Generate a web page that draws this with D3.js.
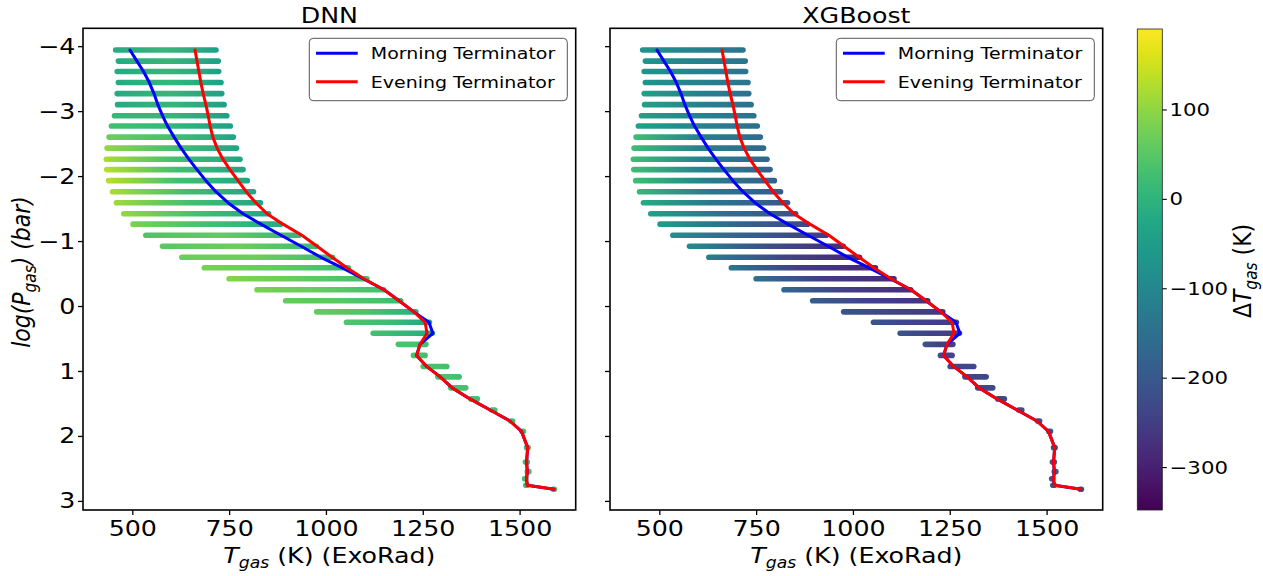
<!DOCTYPE html>
<html><head><meta charset="utf-8">
<script src="https://cdn.jsdelivr.net/npm/d3@7"></script>
<style>body{margin:0;background:#fff} svg{display:block} text{font-family:"DejaVu Sans",sans-serif;fill:#000}</style>
</head><body><svg id="c" width="1263" height="576"></svg>
<script>
// ---------------- data ----------------
const logP = [-3.94,-3.77,-3.61,-3.44,-3.27,-3.10,-2.93,-2.77,-2.60,-2.43,-2.26,-2.10,-1.93,-1.76,-1.59,-1.42,-1.26,-1.09,-0.92,-0.75,-0.59,-0.42,-0.25,-0.08,0.09,0.25,0.42,0.59,0.76,0.93,1.09,1.26,1.43,1.60,1.77,1.93,2.18,2.40,2.55,2.66,2.76,2.82];
const tMin = [457,464,461,464,461,462,454,446,440,435,433,434,439,449,459,478,502,535,578,628,686,750,822,896,976,1053,1122,1187,1226,1251,1289,1322,1374,1428,1477,1506,1518,1515,1520,1513,1516,1587];
const tMax = [716,722,723,729,731,737,744,753,761,769,778,786,797,813,831,852,883,931,975,1017,1058,1106,1149,1193,1232,1267,1275,1258,1256,1312,1344,1361,1391,1436,1482,1510,1522,1520,1524,1516,1520,1590];
const tMorning = [494,512,529,544,556,566,578,591,608,626,646,667,690,716,747,786,832,884,936,987,1041,1096,1150,1189,1227,1266,1276,1243,1234,1260,1295,1326,1372,1424,1475,1505,1521,1518,1520,1518,1520,1589];
const tEvening = [662,667,672,677,683,690,696,701,708,719,734,752,773,794,819,848,889,938,977,1016,1054,1098,1150,1189,1227,1256,1261,1243,1234,1260,1295,1326,1372,1424,1475,1505,1521,1518,1520,1518,1520,1589];
// Delta T_gas colour samples along each level (left end, middle, right end)
const dnnLeft  = [-20,-20,-20,-20,-20,-20,10,30,70,100,120,130,130,120,110,100,80,40,50,70,80,90,80,60,60,40,30,35,35,35,35,35,35,35,35,35,20,20,20,20,20,20];
const dnnMid   = [10,10,10,10,10,10,10,10,30,30,30,30,30,30,30,30,30,60,70,70,60,60,60,50,40,20,10,35,35,35,35,35,35,35,35,35,20,20,20,20,20,20];
const dnnRight = [-40,-40,-40,-40,-40,-40,-40,-40,-30,-30,-30,-30,-30,-30,-30,-30,-20,10,20,20,20,30,30,20,-10,-30,-20,30,30,30,30,30,30,30,30,30,20,20,20,20,20,20];
const xgbLeft  = [-70,-70,-70,-70,-40,-40,-40,-40,20,20,20,20,20,10,-20,-40,-50,-80,-95,-120,-140,-150,-170,-190,-210,-210,-210,-210,-220,-220,-220,-220,-220,-220,-220,-220,-200,-200,-200,-200,-200,-200];
const xgbMid   = [-110,-110,-110,-110,-110,-110,-110,-110,-110,-110,-110,-110,-120,-130,-140,-150,-170,-190,-220,-240,-255,-255,-250,-245,-240,-240,-240,-245,-240,-235,-235,-230,-230,-220,-215,-210,-200,-200,-200,-200,-200,-200];
const xgbRight = [-140,-140,-140,-140,-150,-150,-150,-155,-160,-165,-170,-180,-185,-195,-205,-215,-235,-255,-280,-290,-290,-285,-280,-270,-260,-255,-250,-250,-240,-235,-230,-230,-225,-220,-215,-210,-200,-200,-200,-200,-200,-200];
const panelTitles = ["DNN", "XGBoost"];
const legendLabels = ["Morning Terminator", "Evening Terminator"];
const lineColors = ["#0000ff", "#ff0000"];
const xTicks = [500, 750, 1000, 1250, 1500];
const yTicks = [-4, -3, -2, -1, 0, 1, 2, 3];
const cbTicks = [-300, -200, -100, 0, 100];
const cbDomain = [-348, 190];
const xDomain = [372.7, 1644.9];
const yDomain = [-4.275, 3.14];

// ---------------- drawing ----------------
const S = 1.15; // horizontal text stretch of the reference
const svg = d3.select("#c");
const defs = svg.append("defs");
const color = d3.scaleSequential(d3.interpolateViridis).domain(cbDomain);
const yTop = 28.3, yBot = 510;
const y = d3.scaleLinear().domain(yDomain).range([yTop, yBot]);
const minus = d => (d < 0 ? "\u2212" + Math.abs(d) : String(d));

function stext(parent, x, yy, size, anchor, rot) {
  const g = parent.append("g").attr("transform", `translate(${x},${yy}) scale(${S},1)` + (rot ? ` rotate(${rot})` : ""));
  return g.append("text").attr("font-size", size).attr("text-anchor", anchor);
}

const panels = [
  {x0: 83, x1: 575.7, L: dnnLeft, M: dnnMid, R: dnnRight},
  {x0: 610, x1: 1102.7, L: xgbLeft, M: xgbMid, R: xgbRight}
];

panels.forEach((p, pi) => {
  const x = d3.scaleLinear().domain(xDomain).range([p.x0, p.x1]);
  const g = svg.append("g");

  logP.forEach((v, i) => {
    const xa = x(tMin[i]), xb = Math.max(x(tMax[i]), x(tMin[i]) + 0.6);
    const id = `gr${pi}_${i}`;
    const gr = defs.append("linearGradient").attr("id", id)
      .attr("gradientUnits", "userSpaceOnUse")
      .attr("x1", xa).attr("x2", xb).attr("y1", 0).attr("y2", 0);
    gr.append("stop").attr("offset", 0).attr("stop-color", color(p.L[i]));
    gr.append("stop").attr("offset", 0.5).attr("stop-color", color(p.M[i]));
    gr.append("stop").attr("offset", 1).attr("stop-color", color(p.R[i]));
    g.append("line").attr("x1", xa).attr("x2", xb).attr("y1", y(v)).attr("y2", y(v))
      .attr("stroke", `url(#${id})`).attr("stroke-width", 5.6).attr("stroke-linecap", "round");
  });

  const line = d3.line().x(d => x(d[0])).y(d => y(d[1]));
  [tMorning, tEvening].forEach((arr, k) => {
    g.append("path").datum(arr.map((t, i) => [t, logP[i]]))
      .attr("d", line).attr("fill", "none").attr("stroke", lineColors[k])
      .attr("stroke-width", 3).attr("stroke-linejoin", "round").attr("stroke-linecap", "round");
  });

  const xa = g.append("g").attr("transform", `translate(0,${yBot})`)
    .call(d3.axisBottom(x).tickValues(xTicks).tickSize(5).tickPadding(5).tickFormat(d3.format("d")));
  const ya = g.append("g").attr("transform", `translate(${p.x0},0)`)
    .call(d3.axisLeft(y).tickValues(yTicks).tickSize(5).tickPadding(1.6).tickFormat(pi === 0 ? minus : ""));
  [xa, ya].forEach(a => {
    a.select(".domain").remove();
    a.selectAll(".tick line").attr("stroke", "#000").attr("stroke-width", 1.3);
    a.selectAll("text").attr("font-size", 22).attr("font-family", '"DejaVu Sans",sans-serif')
      .attr("fill", "#000").attr("transform", `scale(${S},1)`);
  });

  g.append("rect").attr("x", p.x0).attr("y", yTop).attr("width", p.x1 - p.x0).attr("height", yBot - yTop)
    .attr("fill", "none").attr("stroke", "#000").attr("stroke-width", 1.6);

  stext(g, (p.x0 + p.x1) / 2, 22.7, 22, "middle").text(panelTitles[pi]);

  const xl = stext(g, (p.x0 + p.x1) / 2, 563, 22, "middle");
  xl.append("tspan").attr("font-style", "italic").text("T");
  xl.append("tspan").attr("font-style", "italic").attr("font-size", 15).attr("dy", 5).text("gas");
  xl.append("tspan").attr("dy", -5).text(" (K) (ExoRad)");

  const bw = 258, bh = 62.4, bx = p.x1 - 8.4 - bw, by = 38.3;
  g.append("rect").attr("x", bx).attr("y", by).attr("width", bw).attr("height", bh).attr("rx", 4)
    .attr("fill", "#fff").attr("fill-opacity", 0.85).attr("stroke", "#555").attr("stroke-width", 1);
  legendLabels.forEach((lab, k) => {
    const ly = by + 15 + k * 28.4;
    g.append("line").attr("x1", bx + 6.7).attr("x2", bx + 48.4).attr("y1", ly).attr("y2", ly)
      .attr("stroke", lineColors[k]).attr("stroke-width", 3);
    stext(g, bx + 61.5, ly + 6, 16.5, "start").text(lab);
  });
});

const yl = stext(svg, 30, 272, 22, "middle", -90).attr("font-style", "italic");
yl.append("tspan").text("log(P");
yl.append("tspan").attr("font-size", 15.4).attr("dy", 5).text("gas");
yl.append("tspan").attr("dy", -5).text(") (bar)");

const cbx = 1137.3, cbw = 25, cbTop = 29, cbBot = 510;
const cg = defs.append("linearGradient").attr("id", "cbgrad").attr("x1", 0).attr("x2", 0).attr("y1", 1).attr("y2", 0);
d3.range(0, 1.0001, 0.05).forEach(t => cg.append("stop").attr("offset", t).attr("stop-color", d3.interpolateViridis(t)));
svg.append("rect").attr("x", cbx).attr("y", cbTop).attr("width", cbw).attr("height", cbBot - cbTop)
  .attr("fill", "url(#cbgrad)").attr("stroke", "#222").attr("stroke-width", 0.8);
const cbScale = d3.scaleLinear().domain(cbDomain).range([cbBot, cbTop]);
const ca = svg.append("g").attr("transform", `translate(${cbx + cbw},0)`)
  .call(d3.axisRight(cbScale).tickValues(cbTicks).tickSize(4.5).tickPadding(1.8).tickFormat(minus));
ca.select(".domain").remove();
ca.selectAll(".tick line").attr("stroke", "#000").attr("stroke-width", 1.1);
ca.selectAll("text").attr("font-size", 18.5).attr("font-family", '"DejaVu Sans",sans-serif')
  .attr("fill", "#000").attr("transform", `scale(${S},1)`);
const cl = stext(svg, 1251, 271, 22, "middle", -90);
cl.append("tspan").text("\u0394");
cl.append("tspan").attr("font-style", "italic").text("T");
cl.append("tspan").attr("font-style", "italic").attr("font-size", 15.4).attr("dy", 5).text("gas");
cl.append("tspan").attr("dy", -5).text(" (K)");
</script></body></html>
